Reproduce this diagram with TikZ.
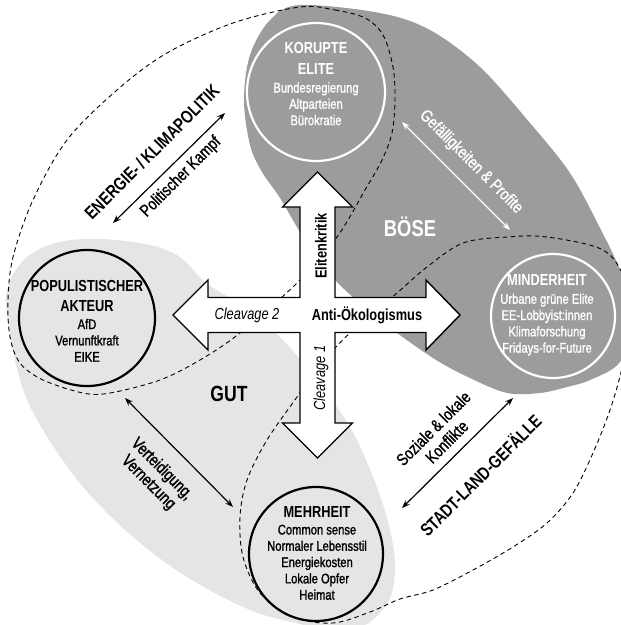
\documentclass[tikz,border=0pt]{standalone}
\usepackage{fontspec}
\setmainfont{Liberation Sans}[FakeStretch=0.8]
\newfontfamily\medfont{Liberation Sans}[FakeStretch=0.8,FakeBold=1.3]
\usetikzlibrary{arrows.meta}
\definecolor{darkreg}{HTML}{9C9C9C}
\definecolor{lightreg}{HTML}{E5E5E5}
\tikzset{
  dashline/.style={line width=0.9pt, dash pattern=on 4.5pt off 3.5pt},
  dblarrow/.style={line width=1.2pt, {Stealth[length=8pt,width=6pt]}-{Stealth[length=8pt,width=6pt]}},
  whitecirc/.style={circle, draw=white, line width=2.2pt, inner sep=0pt},
  blackcirc/.style={circle, draw=black, line width=2.2pt, inner sep=0pt},
  circtext/.style={align=center, font=\medfont\fontsize{14}{16.3}\selectfont, inner sep=0pt},
  biglabel/.style={font=\bfseries\fontsize{18}{20}\selectfont, inner sep=0pt},
  rellabel/.style={font=\medfont\fontsize{17}{19}\selectfont, inner sep=0pt, align=center},
  crosslabel/.style={font=\bfseries\fontsize{16}{18}\selectfont, inner sep=0pt},
  crossital/.style={font=\itshape\fontsize{16}{18}\selectfont, inner sep=0pt},
}
\newcommand{\ctitle}[1]{{\normalfont\bfseries\fontsize{16}{18}\selectfont #1}}
\begin{document}
\begin{tikzpicture}[x=1pt,y=-1pt]
\useasboundingbox (0,0) rectangle (621,625);
\clip (0,0) rectangle (621,625);

% dark region (BOESE)
\fill[darkreg] plot[smooth cycle, tension=0.55] coordinates {
 (300,5) (380,13) (430,30) (480,67) (530,123) (570,173) (600,228) (622,275)
 (632,320) (620,362) (590,380) (567,387) (540,393) (507,393) (470,378)
 (433,358) (380,320) (335,280) (305,240) (280,198) (262,172) (250,145)
 (244,100) (250,55) (270,20)};

% light region (GUT)
\fill[lightreg] plot[smooth cycle, tension=0.55] coordinates {
 (6,300) (20,380) (43,430) (83,487) (133,537) (187,577) (250,610) (300,624)
 (340,632) (370,622) (390,598) (395,565) (390,530) (378,490) (358,442)
 (337,407) (310,372) (280,337) (240,305) (205,282) (180,257) (150,245)
 (100,239) (55,243) (22,262)};

% dashed relation shapes
\draw[dashline] plot[smooth cycle, tension=0.55] coordinates {
 (300,7) (335,10) (365,18) (383,35) (393,67) (395,100) (392,133) (382,160)
 (365,190) (337,237) (297,283) (240,333) (200,360) (160,380) (110,393)
 (83,393) (43,380) (20,363) (10,337) (8,300) (13,257) (33,200) (67,140)
 (117,90) (167,53) (233,23)};
\draw[dashline] plot[smooth cycle, tension=0.55] coordinates {
 (603,250) (547,237) (507,237) (463,243) (427,267) (397,293) (350,333)
 (320,365) (297,397) (267,440) (247,480) (240,517) (243,557) (260,593)
 (293,617) (333,623) (370,612) (400,599) (433,590) (473,570) (513,547)
 (547,523) (573,493) (593,453) (610,410) (622,368) (630,320) (625,280)};

% circles
\node[whitecirc, minimum size=138pt] (kor) at (316,92) {};
\node[whitecirc, minimum size=124pt] (min) at (553,316) {};
\node[blackcirc, minimum size=136pt] (pop) at (87,318) {};
\node[blackcirc, minimum size=134pt] (meh) at (316,554) {};

\node[circtext, text=white] (kortxt) at (316,84)
  {\ctitle{KORUPTE}\\[4pt]\ctitle{ELITE}\\[2pt]Bundesregierung\\Altparteien\\Bürokratie};
\node[circtext, text=white] (mintxt) at (547,315)
  {\ctitle{MINDERHEIT}\\[2pt]Urbane grüne Elite\\EE-Lobbyist:innen\\Klimaforschung\\Fridays-for-Future};
\node[circtext] (poptxt) at (87,321)
  {\ctitle{POPULISTISCHER}\\[4pt]\ctitle{AKTEUR}\\[1pt]AfD\\Vernunftkraft\\EIKE};
\node[circtext] (mehtxt) at (317,553)
  {\ctitle{MEHRHEIT}\\[1pt]Common sense\\Normaler Lebensstil\\Energiekosten\\Lokale Opfer\\Heimat};

% central cross arrow
\draw[fill=white, line width=1.4pt, line join=miter]
 (317.5,172) -- (352.5,207) -- (335,207) -- (335,297.5) -- (426,297.5) -- (426,280)
 -- (460,315) -- (426,350) -- (426,332.5) -- (335,332.5) -- (335,423) -- (352.5,423)
 -- (317.5,458) -- (282.5,423) -- (300,423) -- (300,332.5) -- (208,332.5) -- (208,350)
 -- (173,315) -- (208,280) -- (208,297.5) -- (300,297.5) -- (300,207) -- (282.5,207) -- cycle;

\node[crosslabel] (anti) at (367,315) {Anti-Ökologismus};
\node[crossital] (clv2) at (247,315) {Cleavage 2};
\node[crosslabel, rotate=90] (elit) at (321,246) {Elitenkritik};
\node[crossital, rotate=90] (clv1) at (321,378) {Cleavage 1};

% region labels
\node[font=\bfseries\fontsize{23}{25}\selectfont, text=white, inner sep=0pt] (boese) at (410,227) {BÖSE};
\node[font=\bfseries\fontsize{22}{24}\selectfont, inner sep=0pt] (gut) at (229,394) {GUT};

% relations
\coordinate (pkA) at (113,223);
\coordinate (pkB) at (225,113);
\draw[dblarrow] (pkA) -- (pkB);
\node[biglabel, rotate=45] (energie) at (152,152) {ENERGIE-\,/\,KLIMAPOLITIK};
\node[rellabel, rotate=45] (kampf) at (181,177) {Politischer Kampf};

\coordinate (gfA) at (402,122);
\coordinate (gfB) at (510,230);
\draw[dblarrow, white] (gfA) -- (gfB);
\node[rellabel, rotate=-45, text=white] (gefall) at (471,162) {Gefälligkeiten \& Profite};

\coordinate (vtA) at (125,398);
\coordinate (vtB) at (233,507);
\draw[dblarrow] (vtA) -- (vtB);
\node[rellabel, rotate=-45] (vert) at (155,476) {Verteidigung,\\Vernetzung};

\coordinate (skA) at (402,508);
\coordinate (skB) at (513,398);
\draw[dblarrow] (skA) -- (skB);
\node[rellabel, rotate=45] (sozial) at (440,435) {Soziale \& lokale\\Konflikte};
\node[biglabel, rotate=45] (stadt) at (480,475) {STADT-LAND-GEFÄLLE};
\end{tikzpicture}
\end{document}
